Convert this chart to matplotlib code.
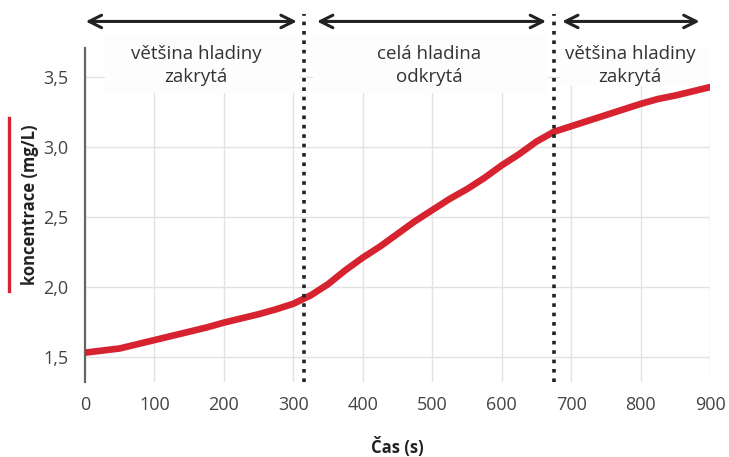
import matplotlib.pyplot as plt
from matplotlib.patches import Rectangle

# data
cas = [0, 25, 50, 75, 100, 125, 150, 175, 200, 225, 250, 275, 300, 325, 350,
       375, 400, 425, 450, 475, 500, 525, 550, 575, 600, 625, 650, 675, 700,
       725, 750, 775, 800, 825, 850, 875, 900]
koncentrace = [1.53, 1.545, 1.56, 1.59, 1.62, 1.65, 1.68, 1.71, 1.745, 1.775,
               1.805, 1.84, 1.88, 1.94, 2.02, 2.12, 2.21, 2.29, 2.38, 2.47,
               2.55, 2.63, 2.70, 2.78, 2.87, 2.95, 3.04, 3.11, 3.15, 3.19,
               3.23, 3.27, 3.31, 3.345, 3.37, 3.40, 3.43]
hranice = [316, 675]
popisky = ['většina hladiny\nzakrytá', 'celá hladina\nodkrytá', 'většina hladiny\nzakrytá']
xticks = [0, 100, 200, 300, 400, 500, 600, 700, 800, 900]
yticks = [1.5, 2.0, 2.5, 3.0, 3.5]
ytick_labels = ['1,5', '2,0', '2,5', '3,0', '3,5']

plt.rcParams['font.family'] = ['Open Sans', 'DejaVu Sans']
red = '#d7232f'
dark = '#222222'

fig = plt.figure(figsize=(7.29, 4.57), dpi=100)
ax = fig.add_axes([85/729, 1-382/457, 625/729, 334/457])

ax.plot(cas, koncentrace, color=red, lw=4.8, solid_capstyle='round', zorder=3)

ax.set_xlim(0, 900)
ax.set_ylim(1.32, 3.71)
ax.set_xticks(xticks)
ax.set_yticks(yticks)
ax.set_yticklabels(ytick_labels)
ax.tick_params(length=0, labelsize=13, labelcolor='#444444', pad=10)
ax.tick_params(axis='y', pad=12)
ax.grid(color='#e2e2e2', lw=1)
ax.set_axisbelow(True)
for s in ['top', 'right', 'bottom']:
    ax.spines[s].set_visible(False)
ax.spines['left'].set_color('#666666')
ax.spines['left'].set_linewidth(1.6)

# dotted separators, run above the axes
for h in hranice:
    ax.plot([h, h], [1.32, 3.95], color=dark, lw=2.6, ls=(0, (1, 1.6)),
            dash_capstyle='butt', clip_on=False, zorder=4)

# near-white background boxes behind the region labels
boxes = [(29, 310, 3.39, 3.80), (328, 667, 3.39, 3.80), (684, 900, 3.44, 3.71)]
for x0, x1, y0, y1 in boxes:
    ax.add_patch(Rectangle((x0, y0), x1-x0, y1-y0, facecolor='#fdfdfd',
                           edgecolor='none', zorder=2, clip_on=False))

centers = [160, 496, 785]
for c, t in zip(centers, popisky):
    ax.text(c, 3.585, t, ha='center', va='center', fontsize=13.5, color='#333333',
            linespacing=1.4, zorder=5, clip_on=False)

# arrows at top
ya = 3.90
arr = [(1, 305), (334, 664), (687, 885)]
for a, b in arr:
    ax.annotate('', xy=(b, ya), xytext=(a, ya), annotation_clip=False,
                arrowprops=dict(arrowstyle='<->,head_length=0.9,head_width=0.45',
                                color=dark, lw=2.2, shrinkA=0, shrinkB=0))

ax.set_xlabel('Čas (s)', fontsize=12, fontweight='bold', color='#222222', labelpad=17)
fig.text(30/729, 1-205/457, 'koncentrace (mg/L)', rotation=90, ha='center',
         va='center', fontsize=12, fontweight='bold', color='#222222')
fig.add_artist(plt.Line2D([9/729, 9/729], [1-118/457, 1-291/457], color=red, lw=2.4))

fig.savefig('out.png', dpi=100)
